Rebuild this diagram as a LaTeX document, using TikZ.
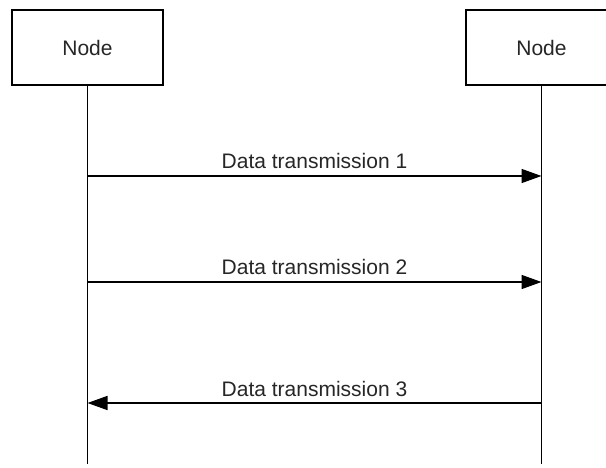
\documentclass[tikz,border=0pt]{standalone}
\usepackage{fontspec}
\setmainfont{Liberation Sans}
\usetikzlibrary{arrows.meta}
\begin{document}
\begin{tikzpicture}[x=1pt,y=-1pt,
  actor/.style={draw=black,line width=1.6pt,fill=white,minimum width=151pt,minimum height=75pt,inner sep=0pt,font=\fontsize{21}{24}\selectfont,text=black!85},
  lifeline/.style={draw=black,line width=1.5pt},
  msg/.style={draw=black,line width=1.5pt,-{Triangle[length=20pt,width=14pt]}},
  lbl/.style={font=\fontsize{21}{24}\selectfont,text=black!85,inner sep=0pt,anchor=base}]
\useasboundingbox (0,0) rectangle (606,468);
\begin{scope}
\clip (0,0) rectangle (606,468);
\node[actor] (A) at (87.5,47.5) {Node};
\node[actor] (B) at (541.5,47.5) {Node};
\draw[lifeline] (A.south) -- ++(0,378) coordinate (Aend);
\draw[lifeline] (B.south) -- ++(0,378) coordinate (Bend);
\end{scope}
\coordinate (a1) at (87.5,176);
\coordinate (b1) at (541.5,176);
\coordinate (a2) at (87.5,282);
\coordinate (b2) at (541.5,282);
\coordinate (a3) at (87.5,403);
\coordinate (b3) at (541.5,403);
\draw[msg] (a1) -- (b1);
\draw[msg] (a2) -- (b2);
\draw[msg] (b3) -- (a3);
\node[lbl] (t1) at (314.5,169) {Data transmission 1};
\node[lbl] (t2) at (314.5,274.5) {Data transmission 2};
\node[lbl] (t3) at (314.5,396) {Data transmission 3};
\end{tikzpicture}
\end{document}
